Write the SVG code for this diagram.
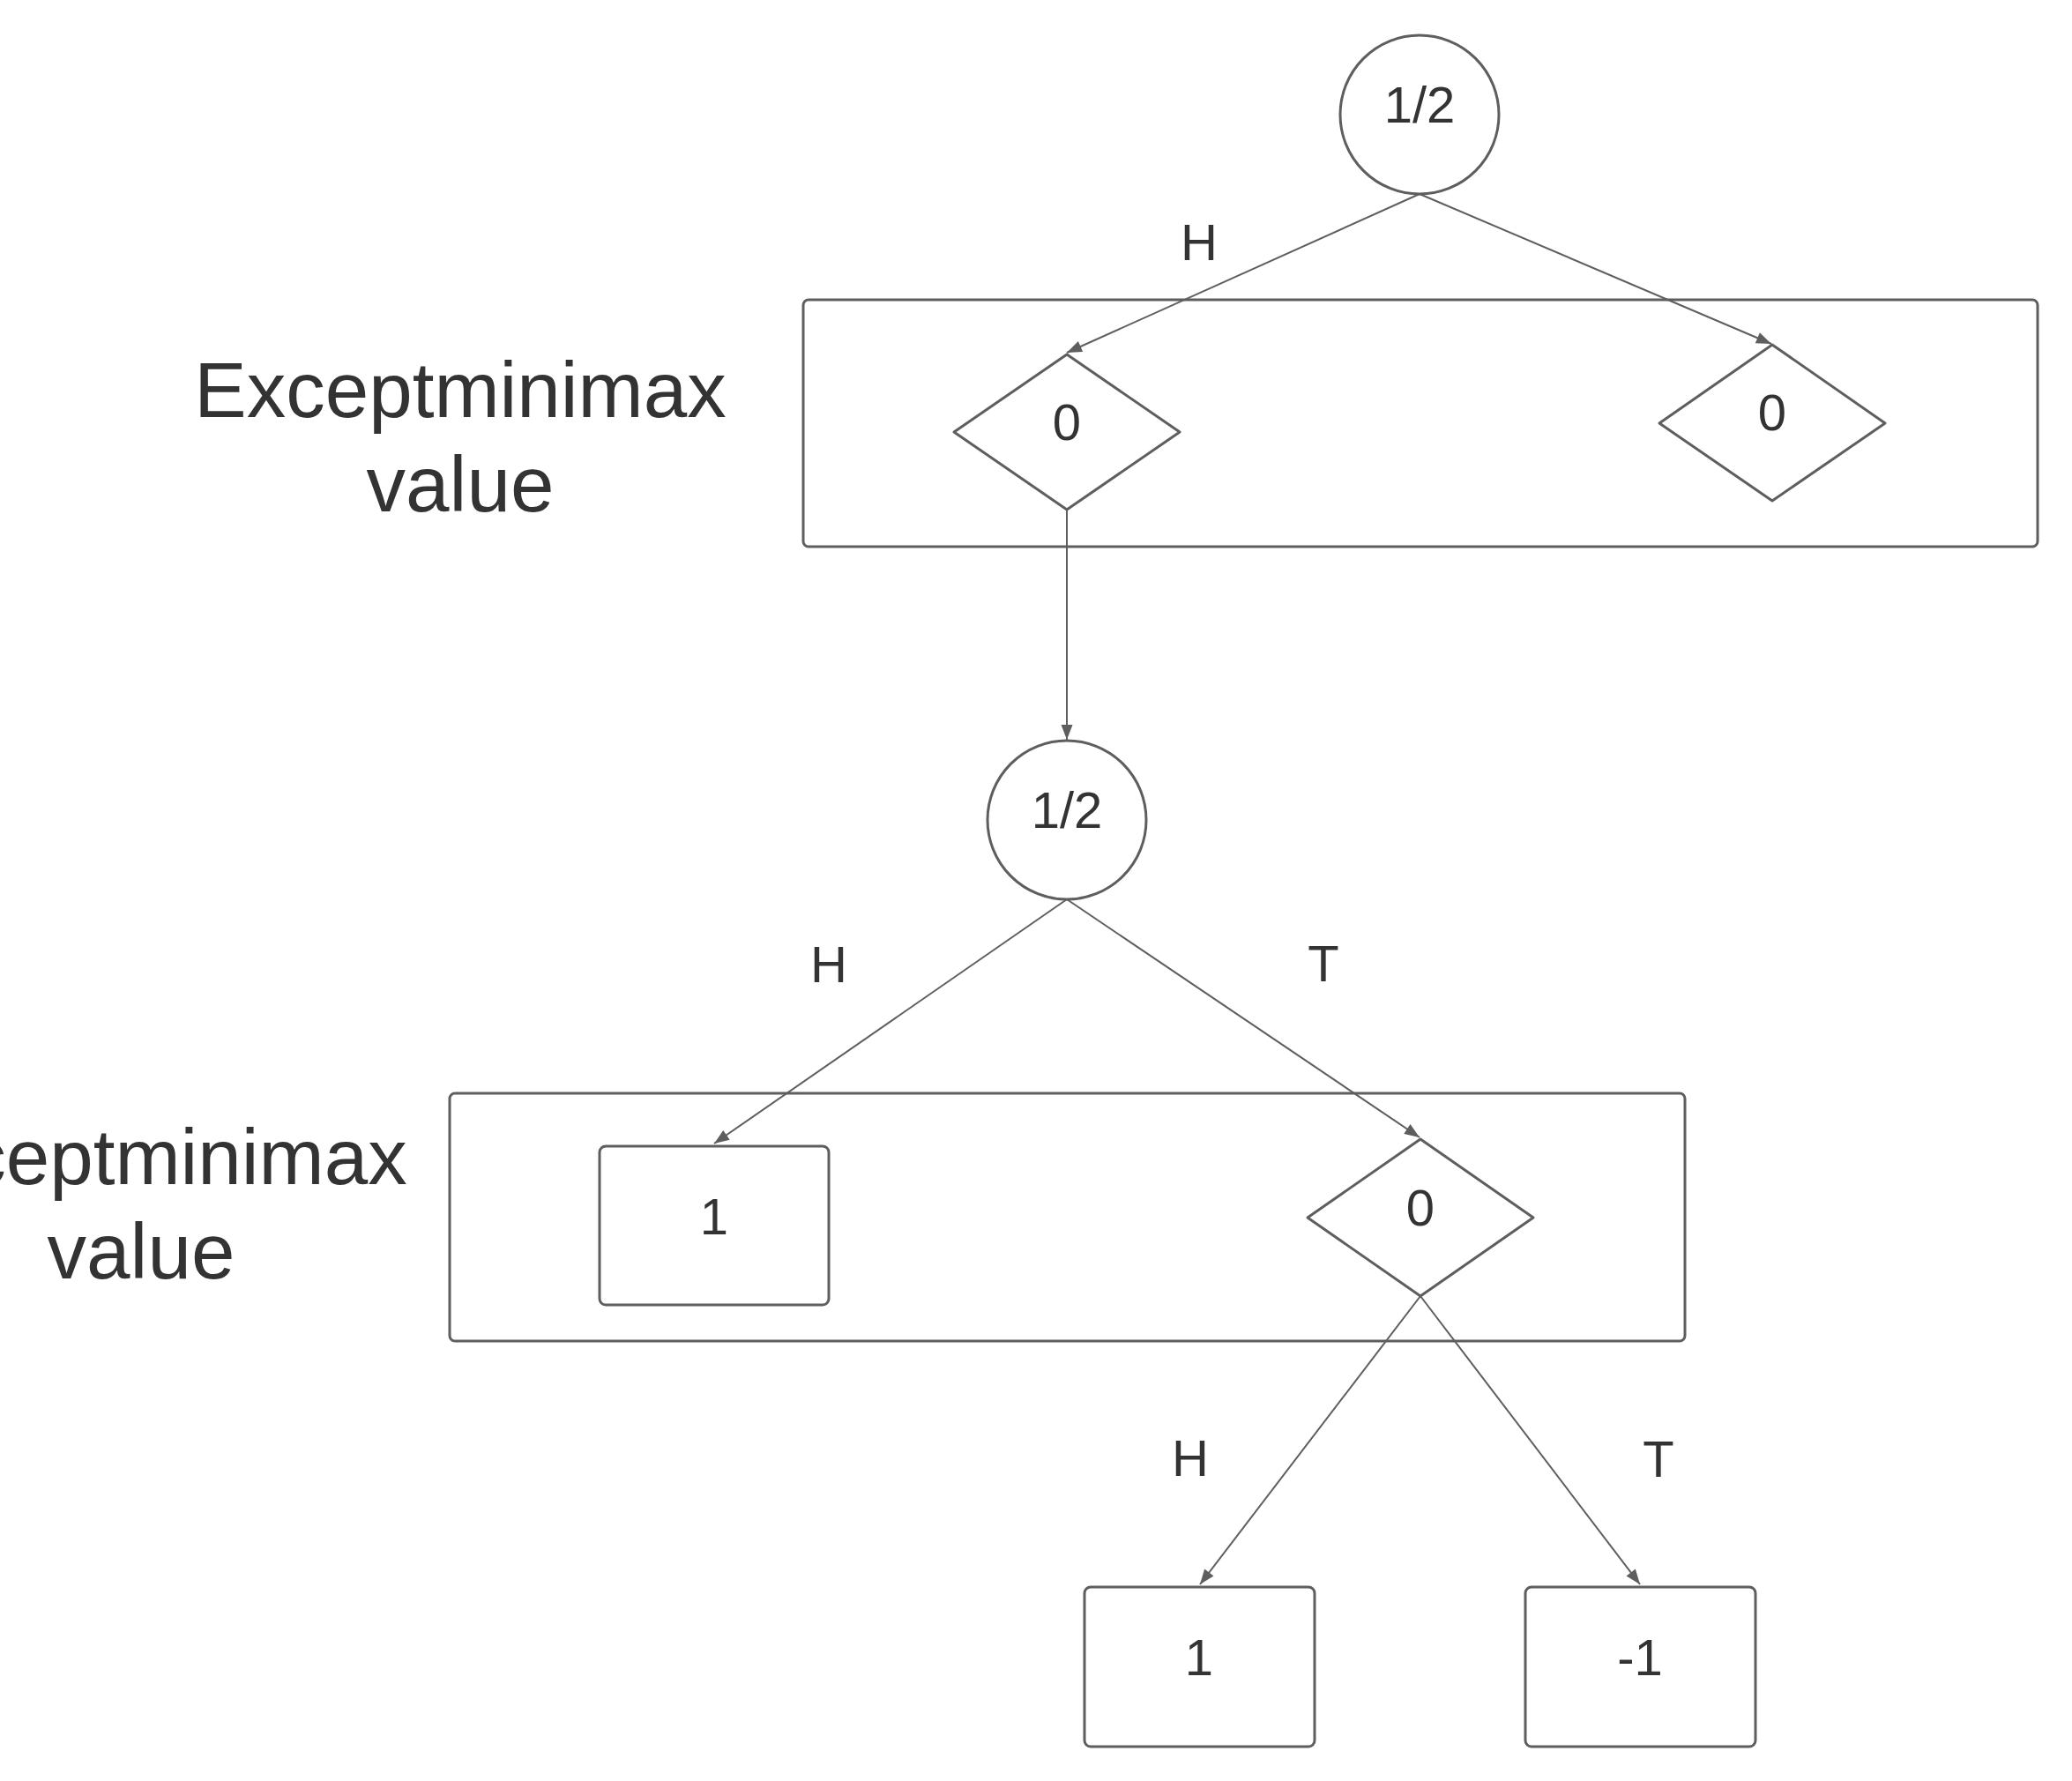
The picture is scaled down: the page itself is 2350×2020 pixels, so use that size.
<svg xmlns="http://www.w3.org/2000/svg" width="2350" height="2020" viewBox="0 0 2350 2020">
<style>
.shape{fill:#ffffff;stroke:#5e5e5e;stroke-width:3;stroke-linejoin:round}
.conn{fill:none;stroke:#5e5e5e;stroke-width:2}
.t{font-family:"Liberation Sans",Arial,sans-serif;font-size:58px;fill:#333333;text-anchor:middle}
.big{font-family:"Liberation Sans",Arial,sans-serif;font-size:89px;fill:#333333;text-anchor:middle}
</style>
<defs>
<marker id="arr" markerUnits="userSpaceOnUse" markerWidth="20" markerHeight="16" viewBox="-18 -7 20 14" refX="0" refY="0" orient="auto">
<path d="M0,0 L-17,-6.5 L-17,6.5 Z" fill="#5e5e5e"/>
</marker>
</defs>
<rect width="2350" height="2020" fill="#ffffff"/>
<g id="label-top">
<text class="big" x="522" y="473">Exceptminimax</text>
<text class="big" x="522" y="580">value</text>
</g>
<g id="label-bottom">
<text class="big" x="160" y="1343">Exceptminimax</text>
<text class="big" x="160" y="1450">value</text>
</g>
<g id="box-top">
<rect class="shape" x="911" y="340" width="1400" height="280" rx="6"/>
</g>
<g id="box-bottom">
<rect class="shape" x="510" y="1240" width="1401" height="281" rx="6"/>
</g>
<g id="connectors">
<line class="conn" x1="1610" y1="220" x2="1210" y2="400" marker-end="url(#arr)"/>
<line class="conn" x1="1610" y1="220" x2="2009" y2="390" marker-end="url(#arr)"/>
<line class="conn" x1="1210" y1="578" x2="1210" y2="839" marker-end="url(#arr)"/>
<line class="conn" x1="1210" y1="1020" x2="810" y2="1297" marker-end="url(#arr)"/>
<line class="conn" x1="1210" y1="1020" x2="1610" y2="1290" marker-end="url(#arr)"/>
<line class="conn" x1="1611" y1="1470" x2="1361" y2="1797" marker-end="url(#arr)"/>
<line class="conn" x1="1611" y1="1470" x2="1860" y2="1797" marker-end="url(#arr)"/>
<text class="t" x="1360" y="295">H</text>
<text class="t" x="940" y="1114">H</text>
<text class="t" x="1501" y="1113">T</text>
<text class="t" x="1350" y="1674">H</text>
<text class="t" x="1881" y="1675">T</text>
</g>
<g id="chance-root">
<circle class="shape" cx="1610" cy="130" r="90"/>
<text class="t" x="1610" y="139">1/2</text>
</g>
<g id="min-left">
<polygon class="shape" points="1210,402 1338,490 1210,578 1082,490"/>
<text class="t" x="1210" y="499">0</text>
</g>
<g id="min-right">
<polygon class="shape" points="2010,391 2138,480 2010,568 1882,480"/>
<text class="t" x="2010" y="488">0</text>
</g>
<g id="chance-mid">
<circle class="shape" cx="1210" cy="930" r="90"/>
<text class="t" x="1210" y="939">1/2</text>
</g>
<g id="leaf-left">
<rect class="shape" x="680" y="1300" width="260" height="180" rx="7"/>
<text class="t" x="810" y="1400">1</text>
</g>
<g id="min-bottom">
<polygon class="shape" points="1611,1292 1739,1381 1611,1470 1483,1381"/>
<text class="t" x="1611" y="1390">0</text>
</g>
<g id="leaf-h">
<rect class="shape" x="1230" y="1800" width="261" height="181" rx="7"/>
<text class="t" x="1360" y="1900">1</text>
</g>
<g id="leaf-t">
<rect class="shape" x="1730" y="1800" width="261" height="181" rx="7"/>
<text class="t" x="1860" y="1900">-1</text>
</g>
</svg>
